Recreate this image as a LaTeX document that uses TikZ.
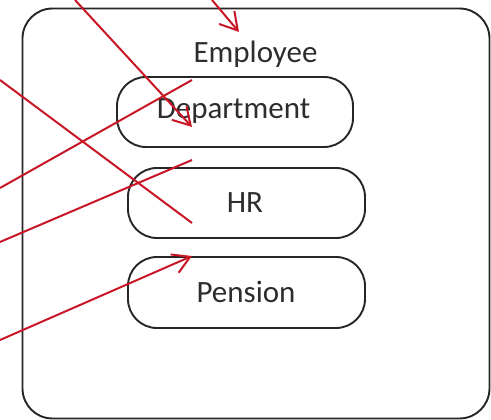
\documentclass[tikz,border=0pt]{standalone}
\usepackage{fontspec}
\setmainfont{Carlito}
\usetikzlibrary{arrows.meta}
\definecolor{redl}{RGB}{200,22,38}
\definecolor{txt}{RGB}{45,45,45}
\begin{document}
\begin{tikzpicture}[x=1pt,y=-1pt,
 box/.style={draw=black!85, line width=1.9pt, rounded corners=30pt, inner sep=0pt, outer sep=0pt},
 lbl/.style={text=txt, font=\fontsize{31}{31}\selectfont, inner sep=0pt, anchor=base},
 redline/.style={draw=redl, line width=2pt},
 redarrow/.style={redline, -{Straight Barb[length=17pt,width=20pt,line width=2pt]}}]
\useasboundingbox (0,0) rectangle (491,420);
\clip (0,0) rectangle (491,420);
% boxes
\node[box, minimum width=467pt, minimum height=410pt] (emp) at (256,213.5) {};
\node[box, rounded corners=29pt, minimum width=236pt, minimum height=70pt] (dep) at (235,112) {};
\node[box, rounded corners=29pt, minimum width=237pt, minimum height=70pt] (hr) at (246.5,203) {};
\node[box, rounded corners=29pt, minimum width=237pt, minimum height=71pt] (pen) at (246.5,292.5) {};
% labels
\node[lbl] (tEmp) at (255.5,63) {Employee};
\node[lbl] (tDep) at (233.5,119) {Department};
\node[lbl] (tHR) at (245,212) {HR};
\node[lbl] (tPen) at (246,302) {Pension};
% red line endpoints
\coordinate (a1) at (212,0);   \coordinate (b1) at (239,32);
\coordinate (a2) at (75,0);    \coordinate (b2) at (192,127);
\coordinate (a3) at (0,80);    \coordinate (b3) at (192,223);
\coordinate (a4) at (0,188);   \coordinate (b4) at (192,80);
\coordinate (a5) at (0,242);   \coordinate (b5) at (192,160);
\coordinate (a6) at (0,340);   \coordinate (b6) at (192,256);
\draw[redarrow] (a1) -- (b1);
\draw[redarrow] (a2) -- (b2);
\draw[redline] (a3) -- (b3);
\draw[redline] (a4) -- (b4);
\draw[redline] (a5) -- (b5);
\draw[redarrow] (a6) -- (b6);
\end{tikzpicture}
\end{document}
